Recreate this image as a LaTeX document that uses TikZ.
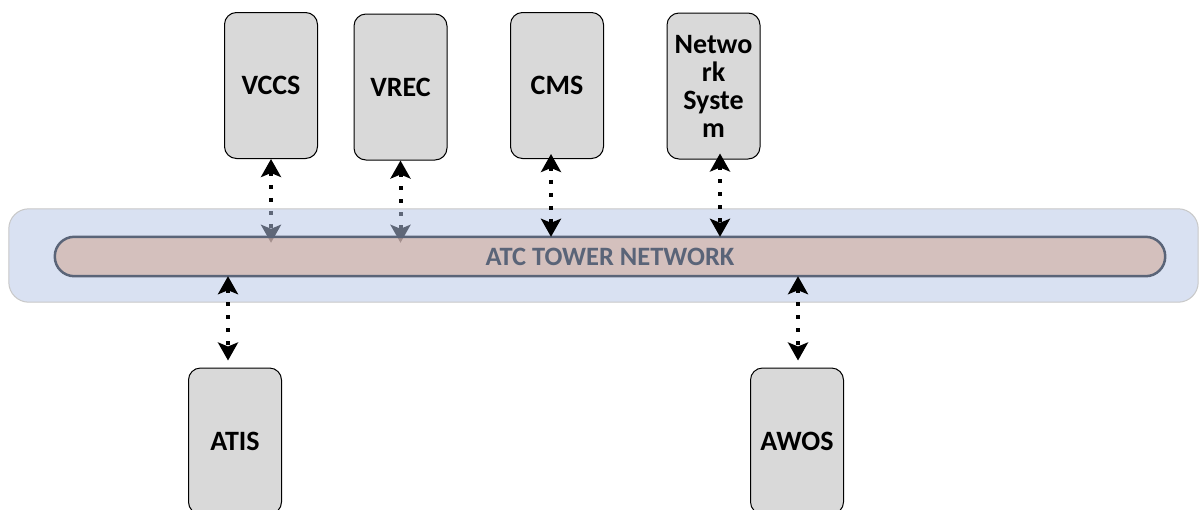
\documentclass[tikz,border=0pt]{standalone}
\usepackage{fontspec}
\setmainfont{Carlito}
\usetikzlibrary{arrows.meta}
\definecolor{boxgray}{RGB}{217,217,217}
\definecolor{bandfill}{RGB}{183,198,231}
\definecolor{bandline}{RGB}{200,200,200}
\definecolor{busfill}{RGB}{210,171,155}
\definecolor{slate}{RGB}{90,100,120}
\tikzset{
  tip/.tip={Stealth[length=18pt,width=20pt,inset=4pt]},
  sysbox/.style={draw=black, line width=1pt, fill=boxgray, rounded corners=12pt,
    minimum width=93pt, minimum height=146pt, inner sep=0pt, align=center,
    font=\bfseries\fontsize{28}{28}\selectfont},
  link/.style={line width=4pt, dash pattern=on 4pt off 9pt, tip-tip},
}
\begin{document}
\begin{tikzpicture}[x=1pt,y=-1pt]
\clip (0,0) rectangle (1201,509);
\fill[white] (0,0) rectangle (1201,509);

% connected systems
\node[sysbox] (vccs) at (271,85.5) {VCCS};
\node[sysbox] (vrec) at (400.5,87) {VREC};
\node[sysbox] (cms) at (557,85.5) {CMS};
\node[sysbox] (net) at (713.5,86) {Netwo\\rk\\Syste\\m};
\node[sysbox] (atis) at (235,441) {ATIS};
\node[sysbox] (awos) at (797,441) {AWOS};

% network band and bus (placed first only as anchors)
\path (603.5,255.5) node[minimum width=1189pt, minimum height=93pt, inner sep=0pt] (band) {};
\path (610,256.5) node[minimum width=1110pt, minimum height=39pt, inner sep=0pt] (bus) {};

% links that pass beneath the translucent band
\draw[link] (vccs.south) -- ([yshift=-6pt]vccs.south |- bus.north);
\draw[link] (vrec.south) -- ([yshift=-6pt]vrec.south |- bus.north);

% band and bus bodies
\draw[draw=bandline, line width=1pt, fill=bandfill, fill opacity=0.52, rounded corners=20pt]
  (band.north west) rectangle (band.south east);
\draw[draw=slate, line width=2.5pt, fill=busfill, fill opacity=0.6, rounded corners=19.5pt]
  (bus.north west) rectangle (bus.south east);
\node[text=slate, font=\bfseries\fontsize{26.5}{30}\selectfont] at (bus.center) {ATC TOWER NETWORK};

% links drawn above the band
\draw[link] ([xshift=-6pt,yshift=5pt]cms.south) -- ([xshift=-6pt]cms.south |- bus.north);
\draw[link] ([xshift=6.5pt,yshift=6pt]net.south) -- ([xshift=6.5pt]net.south |- bus.north);
\draw[link] ([xshift=-7pt]atis.north |- bus.south) -- ([xshift=-7pt,yshift=7pt]atis.north);
\draw[link] ([xshift=1pt]awos.north |- bus.south) -- ([xshift=1pt,yshift=7pt]awos.north);
\end{tikzpicture}
\end{document}
